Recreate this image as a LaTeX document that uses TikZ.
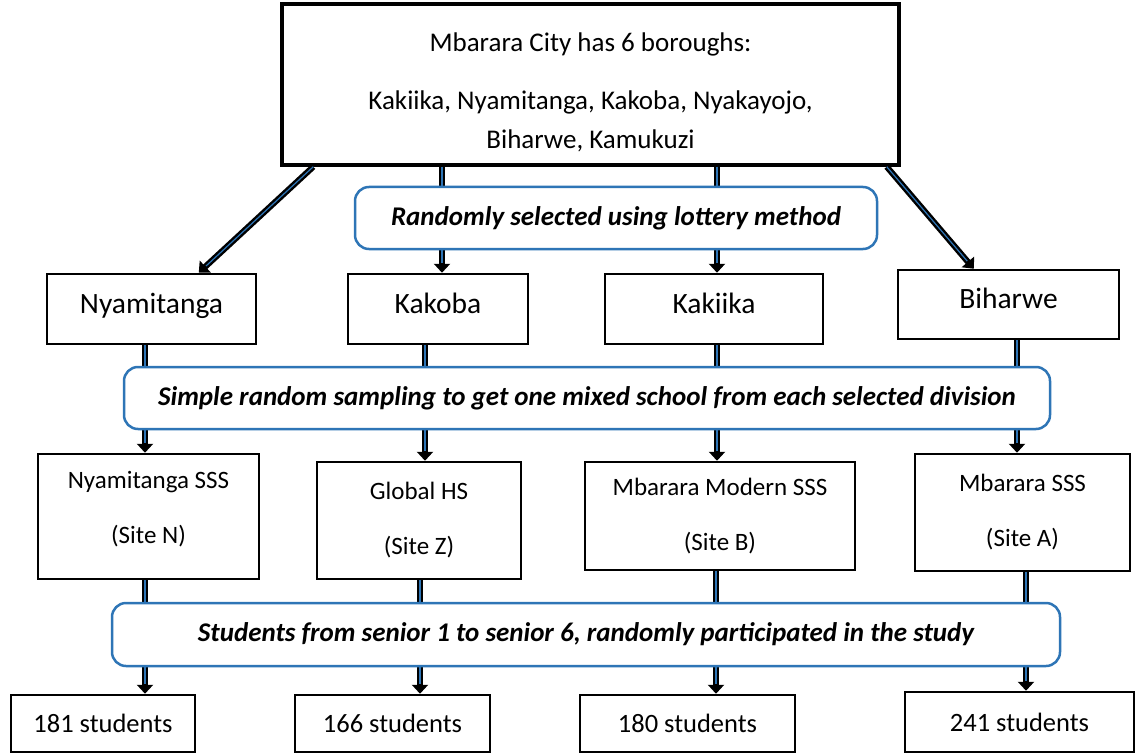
\documentclass[tikz,border=0pt]{standalone}
\usepackage{fontspec}
\setmainfont{Carlito}
\usetikzlibrary{arrows.meta}
\definecolor{accblue}{RGB}{46,117,182}
\begin{document}
\begin{tikzpicture}[x=1pt,y=-1pt,
  box/.style={draw=black, line width=2.5pt, fill=white, inner sep=0pt, align=center},
  rbox/.style={draw=accblue, line width=2.5pt, fill=white, rounded corners=14pt, inner sep=0pt,
    font=\fontsize{27}{30}\selectfont\bfseries\itshape},
  rowtwo/.style={box, minimum height=70pt, font=\fontsize{29.5}{34}\selectfont},
  rowthree/.style={box, font=\fontsize{25}{55}\selectfont},
  rowfour/.style={box, minimum height=57pt, font=\fontsize{26.5}{30}\selectfont},
  arr/.style={line width=6pt, -{Triangle[length=9pt,width=16pt]},
    postaction={draw=accblue, line width=1.2pt, -, shorten >=10pt}}
]
\useasboundingbox (0,0) rectangle (1137,754);

% top box
\node[box, line width=3.5pt, minimum width=617pt, minimum height=161pt,
      font=\fontsize{27}{39}\selectfont] (top) at (590.5,84.5)
  {\rule{0pt}{34pt}Mbarara City has 6 boroughs:\\[19pt] Kakiika, Nyamitanga, Kakoba, Nyakayojo,\\ Biharwe, Kamukuzi};

% row 2
\node[rowtwo, minimum width=209pt] (nyam) at (151.5,309) {Nyamitanga\rule[-12pt]{0pt}{0pt}};
\node[rowtwo, minimum width=180pt] (kako) at (438,309) {Kakoba\rule[-12pt]{0pt}{0pt}};
\node[rowtwo, minimum width=218pt] (kaki) at (714,309) {Kakiika\rule[-12pt]{0pt}{0pt}};
\node[rowtwo, minimum width=221pt, minimum height=69pt] (biha) at (1008.5,304.5) {Biharwe\rule[-12pt]{0pt}{0pt}};

% row 3
\node[rowthree, minimum width=221pt, minimum height=125pt] (nsss) at (148.5,516.5) {Nyamitanga SSS\\(Site N)\rule[-18pt]{0pt}{0pt}};
\node[rowthree, minimum width=204pt, minimum height=117pt] (ghs) at (419,520.5) {Global HS\\(Site Z)};
\node[rowthree, minimum width=270pt, minimum height=108pt] (mmsss) at (720,516) {Mbarara Modern SSS\\(Site B)};
\node[rowthree, minimum width=215pt, minimum height=117pt] (msss) at (1022.5,512.5) {Mbarara SSS\\(Site A)};

% row 4
\node[rowfour, minimum width=184pt] (s1) at (103,723.5) {181 students};
\node[rowfour, minimum width=195pt] (s2) at (392.5,723.5) {166 students};
\node[rowfour, minimum width=215pt] (s3) at (687.5,723.5) {180 students};
\node[rowfour, minimum width=229pt, minimum height=60pt] (s4) at (1019.5,722) {241 students};

% arrows
\draw[arr] ([xshift=33pt]top.south west) -- ([xshift=153pt]nyam.north west);
\draw[arr] ([xshift=-14pt]top.south east) -- ([xshift=77pt]biha.north west);
\draw[arr] ([xshift=4pt]kako.north |- top.south) -- ([xshift=4pt]kako.north);
\draw[arr] ([xshift=3pt]kaki.north |- top.south) -- ([xshift=3pt]kaki.north);

\draw[arr] ([xshift=-6.5pt]nyam.south) -- ([xshift=-6.5pt]nyam.south |- nsss.north);
\draw[arr] ([xshift=-13pt]kako.south) -- ([xshift=-13pt]kako.south |- ghs.north);
\draw[arr] ([xshift=3pt]kaki.south) -- ([xshift=3pt]kaki.south |- mmsss.north);
\draw[arr] ([xshift=8.5pt]biha.south) -- ([xshift=8.5pt]biha.south |- msss.north);

\draw[arr] ([xshift=-3.5pt]nsss.south) -- ([xshift=-3.5pt]nsss.south |- s1.north);
\draw[arr] ([xshift=1pt]ghs.south) -- ([xshift=1pt]ghs.south |- s2.north);
\draw[arr] ([xshift=-4pt]mmsss.south) -- ([xshift=-4pt]mmsss.south |- s3.north);
\draw[arr] ([xshift=3.5pt]msss.south) -- ([xshift=3.5pt]msss.south |- s4.north);

% rounded boxes on top of the arrows
\node[rbox, minimum width=522pt, minimum height=62pt] (r1) at (616,218) {Randomly selected using lottery method};
\node[rbox, minimum width=926pt, minimum height=62pt] (r2) at (587,398) {Simple random sampling to get one mixed school from each selected division};
\node[rbox, minimum width=948pt, minimum height=63pt] (r3) at (586,634.5) {Students from senior 1 to senior 6, randomly participated in the study};
\end{tikzpicture}
\end{document}
